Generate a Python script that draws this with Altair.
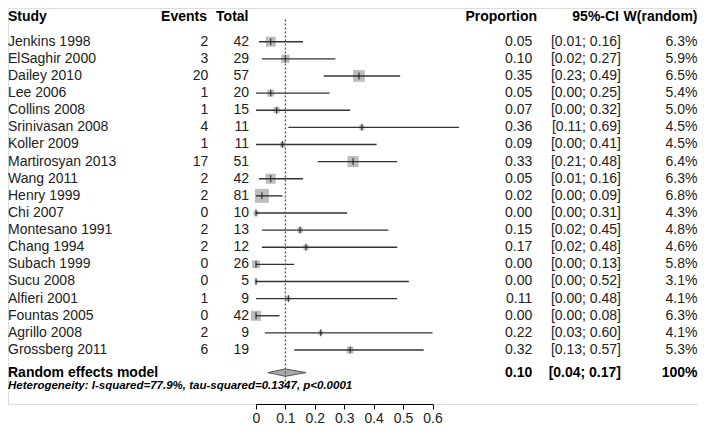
import altair as alt
import pandas as pd

# ---------------- data ----------------
studies = ["Jenkins 1998", "ElSaghir 2000", "Dailey 2010", "Lee 2006", "Collins 2008",
           "Srinivasan 2008", "Koller 2009", "Martirosyan 2013", "Wang 2011", "Henry 1999",
           "Chi 2007", "Montesano 1991", "Chang 1994", "Subach 1999", "Sucu 2008",
           "Alfieri 2001", "Fountas 2005", "Agrillo 2008", "Grossberg 2011"]
events = [2, 3, 20, 1, 1, 4, 1, 17, 2, 2, 0, 2, 2, 0, 0, 1, 0, 2, 6]
totals = [42, 29, 57, 20, 15, 11, 11, 51, 42, 81, 10, 13, 12, 26, 5, 9, 42, 9, 19]
props = [0.05, 0.10, 0.35, 0.05, 0.07, 0.36, 0.09, 0.33, 0.05, 0.02,
         0.00, 0.15, 0.17, 0.00, 0.00, 0.11, 0.00, 0.22, 0.32]
ci_low = [0.01, 0.02, 0.23, 0.00, 0.00, 0.11, 0.00, 0.21, 0.01, 0.00,
          0.00, 0.02, 0.02, 0.00, 0.00, 0.00, 0.00, 0.03, 0.13]
ci_high = [0.16, 0.27, 0.49, 0.25, 0.32, 0.69, 0.41, 0.48, 0.16, 0.09,
           0.31, 0.45, 0.48, 0.13, 0.52, 0.48, 0.08, 0.60, 0.57]
w_random = [6.3, 5.9, 6.5, 5.4, 5.0, 4.5, 4.5, 6.4, 6.3, 6.8,
            4.3, 4.8, 4.6, 5.8, 3.1, 4.1, 6.3, 4.1, 5.3]
pooled_est = 0.10
pooled_low = 0.04
pooled_high = 0.17
headers = ["Study", "Events", "Total", "Proportion", "95%-CI", "W(random)"]
pooled_label = "Random effects model"
heterogeneity = "Heterogeneity: I-squared=77.9%, tau-squared=0.1347, p<0.0001"
x_ticks = [0, 0.1, 0.2, 0.3, 0.4, 0.5, 0.6]

df = pd.DataFrame({
    "study": studies, "events": events, "total": totals, "prop": props,
    "lo": ci_low, "hi": ci_high, "w": w_random,
})
df["row"] = list(range(len(df)))
df["ci"] = [f"[{a:.2f}; {b:.2f}]" for a, b in zip(ci_low, ci_high)]
df["wtxt"] = [f"{w:.1f}%" for w in w_random]

pool_df = pd.DataFrame({"est": [pooled_est], "lo": [pooled_low], "hi": [pooled_high],
                        "label": [pooled_label],
                        "ptxt": [f"{pooled_est:.2f}"],
                        "ci": [f"[{pooled_low:.2f}; {pooled_high:.2f}]"],
                        "wtxt": ["100%"]})
diamond_df = pd.DataFrame({"x": [pooled_low, pooled_est, pooled_high], "k": [0, 1, 0]})
header_df = pd.DataFrame({"label": headers})
het_df = pd.DataFrame({"label": [heterogeneity]})

# ---------------- layout ----------------
F = "Liberation Sans"
HEAD_ROW = -1.45
DASH_START = -1.3
POOL_ROW = 19.32
HET_ROW = 20.08
DASH_END = 20.22
DIAMOND_HALF = 0.216

xscale = alt.Scale(domain=[0, 0.6], range=[248, 424.5], nice=False, zero=False)
yscale = alt.Scale(domain=[0, 18], range=[33.7, 342.0], nice=False, zero=False)
xaxis = alt.Axis(values=x_ticks, format=".1~f", tickSize=5, labelPadding=2,
                 domainColor="black", tickColor="black", domainWidth=1, tickWidth=1,
                 labelFont=F, labelFontSize=14, labelColor="#222", title=None,
                 grid=False, labelFlush=False)


def X(f):
    return alt.X(f, scale=xscale, axis=xaxis)


def Y(f="row:Q"):
    return alt.Y(f, scale=yscale, axis=None)


base = alt.Chart(df)

squares = base.mark_square(color="#bdbdbd", opacity=1).encode(
    x=X("prop:Q"), y=Y(),
    size=alt.Size("total:Q", scale=alt.Scale(domain=[0, 81], range=[0, 196]), legend=None),
)
ci_lines = base.mark_rule(color="#333", strokeWidth=1.4).encode(
    x=X("lo:Q"), x2="hi:Q", y=Y())
ticks = base.mark_tick(orient="vertical", color="black", thickness=1.2, size=7).encode(
    x=X("prop:Q"), y=Y())

diamond = alt.Chart(diamond_df).transform_calculate(
    ytop=f"{POOL_ROW} - datum.k * {DIAMOND_HALF}",
    ybot=f"{POOL_ROW} + datum.k * {DIAMOND_HALF}",
).mark_area(fill="#a8a8a8", stroke="#555", strokeWidth=1, orient="vertical").encode(
    x=X("x:Q"), y=Y("ytop:Q"), y2="ybot:Q")

dashed = alt.Chart(pool_df).transform_calculate(
    r0=f"{DASH_START}", r1=f"{DASH_END}"
).mark_rule(color="#555", strokeDash=[2, 2], strokeWidth=1.3).encode(
    x=X("est:Q"), y=Y("r0:Q"), y2="r1:Q")


def col_text(field, xpos, align="right", fmt=None):
    enc = alt.Text(field, format=fmt) if fmt else alt.Text(field)
    return base.mark_text(align=align, baseline="middle", font=F, fontSize=14,
                          color="#222").encode(x=alt.value(xpos), y=Y(), text=enc)


t_study = col_text("study:N", 0, align="left")
t_events = col_text("events:Q", 200.3)
t_total = col_text("total:Q", 241)
t_prop = col_text("prop:Q", 524.3, fmt=".2f")
t_ci = col_text("ci:N", 613)
t_w = col_text("wtxt:N", 689.5)


def header(label, xpos, align="right"):
    return alt.Chart(header_df).transform_filter(
        alt.datum.label == label
    ).transform_calculate(r=f"{HEAD_ROW}").mark_text(
        align=align, baseline="middle", font=F, fontSize=14, fontWeight="bold",
        color="black").encode(x=alt.value(xpos), y=Y("r:Q"), text="label:N")


h_layers = [header("Study", 0, "left"), header("Events", 199), header("Total", 240.5),
            header("Proportion", 529), header("95%-CI", 611), header("W(random)", 689.5)]


def pool_text(field, xpos, align="right"):
    return alt.Chart(pool_df).transform_calculate(r=f"{POOL_ROW}").mark_text(
        align=align, baseline="middle", font=F, fontSize=14,
        fontWeight="bold", color="black").encode(
        x=alt.value(xpos), y=Y("r:Q"), text=field)


p_label = pool_text("label:N", 0, "left")
p_prop = pool_text("ptxt:N", 524.3)
p_ci = pool_text("ci:N", 613)
p_w = pool_text("wtxt:N", 689.5)

het = alt.Chart(het_df).transform_calculate(r=f"{HET_ROW}").mark_text(
    align="left", baseline="middle", font=F, fontSize=11.5,
    fontWeight="bold", fontStyle="italic", color="black").encode(
    x=alt.value(0), y=Y("r:Q"), text="label:N")

chart = alt.layer(
    squares, ci_lines, ticks, diamond, dashed,
    t_study, t_events, t_total, t_prop, t_ci, t_w,
    *h_layers, p_label, p_prop, p_ci, p_w, het,
).properties(
    width=690, height=396,
    autosize=alt.AutoSizeParams(type="none"),
    padding={"left": 0, "top": 0, "right": 0, "bottom": 22},
).configure_view(stroke=None).configure(background="white")

chart.save("out.html", embed_options={"renderer": "svg", "actions": False})
